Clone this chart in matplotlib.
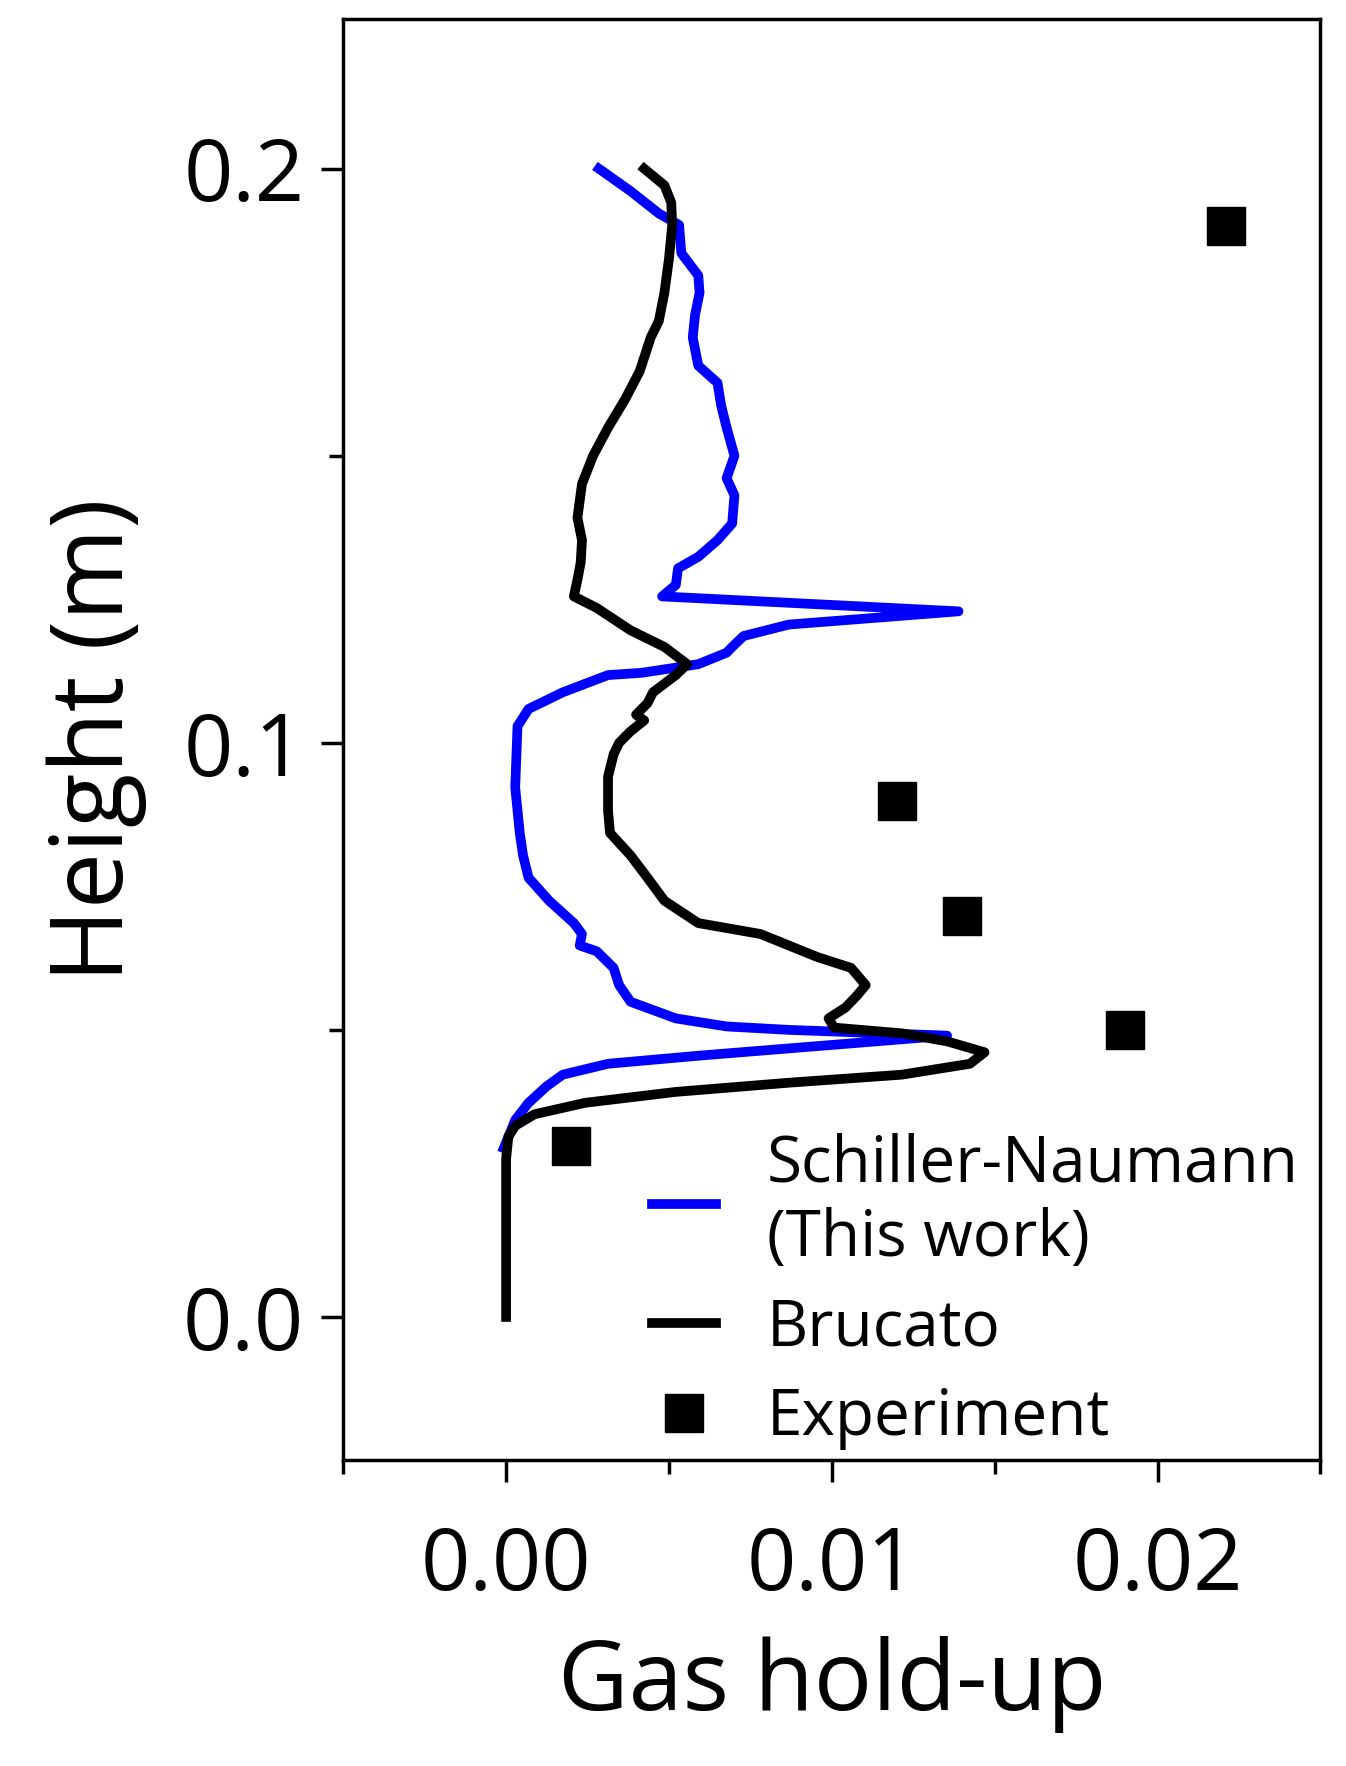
import matplotlib
matplotlib.use("Agg")
import matplotlib.pyplot as plt
from matplotlib.ticker import MultipleLocator

plt.rcParams['font.family'] = ['Open Sans', 'DejaVu Sans']

sn_x = [0.00285,0.00382,0.00469,0.00531,0.00538,0.00590,0.00594,0.00580,0.00573,0.00590,0.00649,0.00660,0.00677,0.00701,0.00677,0.00701,0.00694,0.00649,0.00590,0.00528,0.00521,0.00479,0.01389,0.00868,0.00729,0.00694,0.00677,0.00590,0.00417,0.00313,0.00174,0.00069,0.00035,0.00028,0.00042,0.00052,0.00069,0.00132,0.00208,0.00233,0.00226,0.00278,0.00330,0.00347,0.00382,0.00521,0.00677,0.00868,0.01354,0.00590,0.00313,0.00174,0.00125,0.00069,0.00028,-0.00007]
sn_y = [0.2000,0.1961,0.1922,0.1902,0.1853,0.1814,0.1784,0.1745,0.1706,0.1657,0.1627,0.1588,0.1549,0.1500,0.1461,0.1431,0.1382,0.1353,0.1324,0.1304,0.1275,0.1255,0.1229,0.1206,0.1186,0.1167,0.1157,0.1137,0.1122,0.1118,0.1088,0.1059,0.1029,0.0922,0.0843,0.0804,0.0765,0.0725,0.0686,0.0667,0.0647,0.0637,0.0608,0.0578,0.0549,0.0520,0.0506,0.0500,0.0490,0.0455,0.0441,0.0422,0.0402,0.0373,0.0343,0.0294]

br_x = [0.00424,0.00486,0.00507,0.00510,0.00500,0.00486,0.00469,0.00444,0.00410,0.00365,0.00313,0.00267,0.00233,0.00219,0.00233,0.00229,0.00219,0.00208,0.00278,0.00382,0.00486,0.00556,0.00521,0.00451,0.00434,0.00399,0.00424,0.00382,0.00347,0.00330,0.00313,0.00313,0.00319,0.00382,0.00434,0.00486,0.00590,0.00781,0.00868,0.00955,0.01059,0.01104,0.01076,0.01042,0.00990,0.01007,0.01215,0.01354,0.01469,0.01424,0.01215,0.00868,0.00521,0.00243,0.00087,0.00028,0.00007,0.0,0.0]
br_y = [0.2000,0.1971,0.1941,0.1902,0.1843,0.1784,0.1735,0.1706,0.1647,0.1598,0.1549,0.1500,0.1451,0.1392,0.1353,0.1314,0.1284,0.1255,0.1235,0.1196,0.1167,0.1137,0.1118,0.1088,0.1069,0.1049,0.1039,0.1020,0.1000,0.0980,0.0941,0.0882,0.0843,0.0804,0.0765,0.0725,0.0686,0.0667,0.0647,0.0627,0.0608,0.0578,0.0559,0.0539,0.0520,0.0504,0.0494,0.0480,0.0461,0.0441,0.0422,0.0408,0.0392,0.0373,0.0353,0.0333,0.0314,0.0275,0.0]

exp_x = [0.0221, 0.0120, 0.0140, 0.0190, 0.0020]
exp_y = [0.190, 0.0898, 0.0698, 0.050, 0.0298]

fig = plt.figure(figsize=(13.46, 17.66), dpi=100)
ax = fig.add_axes([0.255, 0.173, 0.726, 0.816])
ax.plot(sn_x, sn_y, color='#0000ff', lw=7, label='Schiller-Naumann\n(This work)')
ax.plot(br_x, br_y, color='black', lw=7, label='Brucato')
ax.plot(exp_x, exp_y, 's', color='black', ms=27, label='Experiment', linestyle='none')
ax.set_xlim(-0.005, 0.025)
ax.set_ylim(-0.025, 0.226)
ax.set_xticks([0.0, 0.01, 0.02])
ax.set_xticklabels(['0.00', '0.01', '0.02'])
ax.xaxis.set_minor_locator(MultipleLocator(0.005))
ax.set_yticks([0.0, 0.1, 0.2])
ax.set_yticklabels(['0.0', '0.1', '0.2'])
ax.yaxis.set_minor_locator(MultipleLocator(0.05))
ax.tick_params(which='both', direction='out', width=2.5, labelsize=62)
ax.tick_params(axis='x', pad=30)
ax.tick_params(axis='y', pad=12)
ax.tick_params(which='major', length=16)
ax.tick_params(which='minor', length=10)
for s in ax.spines.values():
    s.set_linewidth(2.5)
ax.set_xlabel('Gas hold-up', fontsize=70, labelpad=18)
ax.set_ylabel('Height (m)', fontsize=72, labelpad=26)
ax.legend(loc='upper left', bbox_to_anchor=(0.29, 0.245), frameon=False, fontsize=46,
          handlelength=1.0, handletextpad=0.8, labelspacing=0.4, borderaxespad=0)
fig.savefig('out.png', dpi=100)
